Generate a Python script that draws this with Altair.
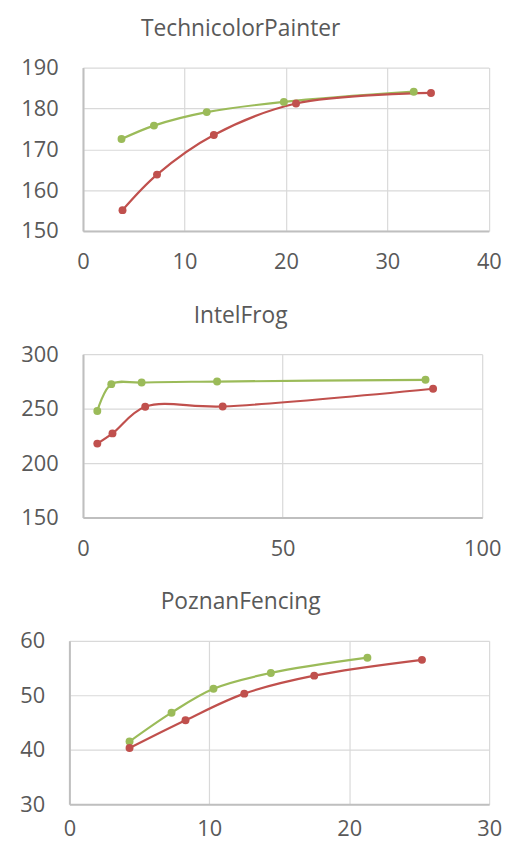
import altair as alt
import pandas as pd

# TechnicolorPainter
tp_green_x = [3.8, 7.0, 12.2, 19.8, 32.6]
tp_green_y = [172.5, 175.8, 179.1, 181.6, 184.1]
tp_red_x = [3.9, 7.3, 12.9, 21.0, 34.3]
tp_red_y = [155.1, 163.8, 173.5, 181.2, 183.8]
# IntelFrog
if_green_x = [3.6, 7.1, 14.7, 33.6, 85.8]
if_green_y = [247.8, 272.5, 274.0, 274.9, 276.5]
if_red_x = [3.6, 7.4, 15.6, 35.0, 87.7]
if_red_y = [217.9, 227.3, 251.7, 252.0, 268.3]
# PoznanFencing
pf_green_x = [4.3, 7.3, 10.3, 14.4, 21.3]
pf_green_y = [41.5, 46.8, 51.2, 54.1, 56.9]
pf_red_x = [4.3, 8.3, 12.5, 17.5, 25.2]
pf_red_y = [40.3, 45.4, 50.3, 53.6, 56.5]

titles = ["TechnicolorPainter", "IntelFrog", "PoznanFencing"]
x_ticks = [[0, 10, 20, 30, 40], [0, 50, 100], [0, 10, 20, 30]]
y_ticks = [[150, 160, 170, 180, 190], [150, 200, 250, 300], [30, 40, 50, 60]]

GREEN = "#9bbb59"
RED = "#c0504d"
FONT = "Open Sans"
TXT = "#595959"

GROUP_W = 424


def make_df(gx, gy, rx, ry):
    rows = [{"x": a, "y": b, "s": "green"} for a, b in zip(gx, gy)]
    rows += [{"x": a, "y": b, "s": "red"} for a, b in zip(rx, ry)]
    return pd.DataFrame(rows)


def panel(df, title, xt, yt, x0, x1, dx, xpad):
    xs = alt.X("x:Q", scale=alt.Scale(domain=[xt[0], xt[-1]], nice=False, range=[x0, x1]),
               axis=alt.Axis(values=xt, title=None, labelPadding=xpad, labelFlush=False))
    ys = alt.Y("y:Q", scale=alt.Scale(domain=[yt[0], yt[-1]], nice=False, zero=False),
               axis=alt.Axis(values=yt, title=None, labelFlush=False, offset=-x0))
    col = alt.Color("s:N", scale=alt.Scale(domain=["green", "red"], range=[GREEN, RED]), legend=None)
    base = alt.Chart(df)
    lines = base.mark_line(interpolate="catmull-rom", strokeWidth=2.2).encode(
        x=xs, y=ys, color=col, detail="s:N")
    pts = base.mark_circle(size=64, opacity=1).encode(x=xs, y=ys, color=col)
    return alt.layer(lines, pts).properties(
        width=GROUP_W, height=165,
        title=alt.TitleParams(title, anchor="middle", frame="group", dx=dx,
                              fontSize=23, font=FONT, color=TXT, fontWeight="normal",
                              offset=16),
    )


p1 = panel(make_df(tp_green_x, tp_green_y, tp_red_x, tp_red_y), titles[0], x_ticks[0], y_ticks[0],
           13.7, 423.7, -39, 21)
p2 = panel(make_df(if_green_x, if_green_y, if_red_x, if_red_y), titles[1], x_ticks[1], y_ticks[1],
           13.7, 417, -39, 21)
p3 = panel(make_df(pf_green_x, pf_green_y, pf_red_x, pf_red_y), titles[2], x_ticks[2], y_ticks[2],
           0, 424, -39, 15)

chart = alt.concat(p1, p2, p3, columns=1, spacing=32.5).properties(
    padding={"left": 11, "top": 6, "right": 0, "bottom": -3},
).configure_view(stroke=None).configure_axis(
    labelFont=FONT, labelFontSize=22, labelColor=TXT,
    gridColor="#d9d9d9", gridWidth=1.2,
    domainColor="#bfbfbf", domainWidth=2,
    ticks=False,
).configure_axisY(labelPadding=25)

chart.save("out.html", embed_options={"renderer": "svg", "actions": False})
